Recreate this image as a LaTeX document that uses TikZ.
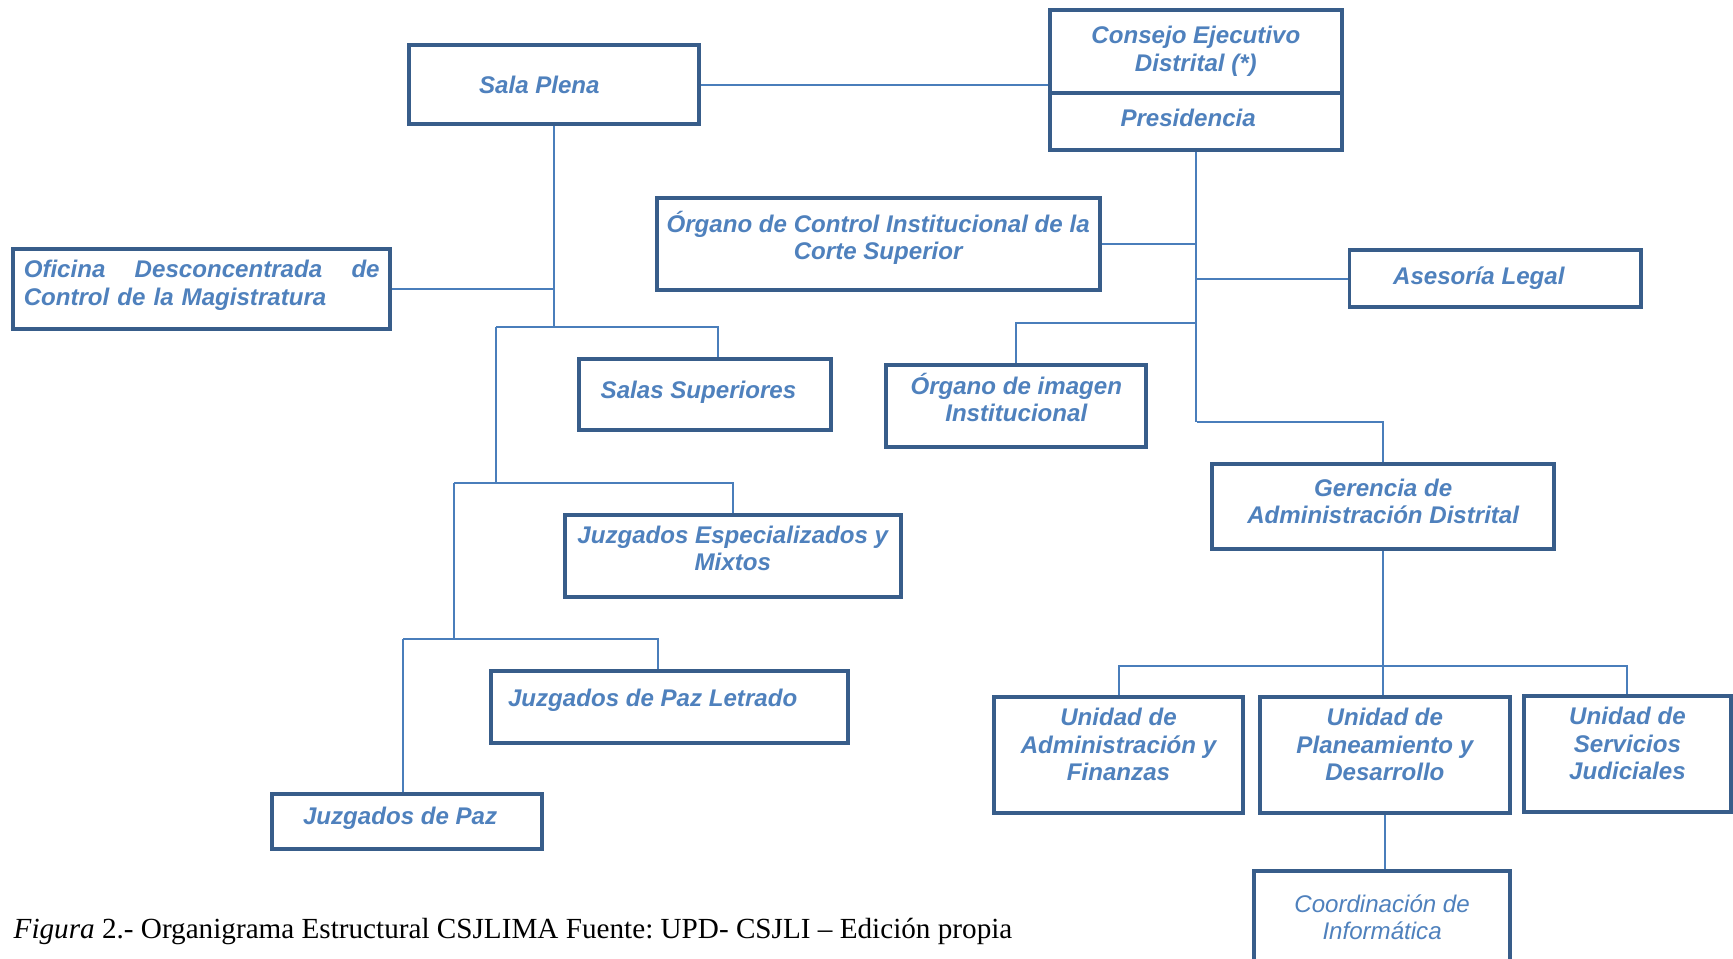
\documentclass[tikz,border=0pt]{standalone}
\usepackage{fontspec}
\setmainfont{Liberation Serif}
\setsansfont{Liberation Sans}
\usepackage{xcolor}
\usepackage{tikz}
\usetikzlibrary{positioning, calc, backgrounds}

\definecolor{boxblue}{HTML}{385D8A}
\definecolor{textblue}{HTML}{4F81BD}
\definecolor{lineblue}{HTML}{4A7EBB}

\begin{document}
\begin{tikzpicture}[x=0.5pt, y=-0.5pt,
            org_box/.style={rectangle, draw=boxblue, line width=1.8pt, fill=white, align=center,
            inner sep=2pt, text=textblue, font=\fontsize{10.9}{12.4}\selectfont\sffamily\bfseries\itshape},
            plain_box/.style={org_box, font=\fontsize{10.9}{12.4}\selectfont\sffamily\itshape},
            link/.style={draw=lineblue, line width=0.9pt},
            caption_style/.style={anchor=base west, inner sep=0pt, font=\fontsize{13.2}{15}\selectfont\frenchspacing}
        ]
            \useasboundingbox (0,0) rectangle (1568,867);

            % Top level
            \node[org_box, minimum width=131pt, minimum height=35.5pt] (sala) at (501,76.5) {Sala Plena\kern13pt};
            \node[org_box, minimum width=132pt, minimum height=37.5pt] (consejo) at (1082,46.5) {Consejo Ejecutivo\\Distrital (*)};
            \node[org_box, minimum width=132pt, minimum height=26pt, text depth=3pt] (presidencia) at (1082,110) {Presidencia\kern7pt};

            % Left branch (jurisdictional)
            \node[org_box, minimum width=170.5pt, minimum height=36.5pt, text width=161pt, align=left, text depth=18.2pt] (oficina) at (182.5,261.5)
                {Oficina\hfill Desconcentrada\hfill de\\Control de la Magistratura};
            \node[org_box, minimum width=114pt, minimum height=32pt, text depth=4.2pt] (salas) at (638,357) {Salas Superiores\kern6pt};
            \node[org_box, minimum width=152pt, minimum height=37pt, text depth=7pt] (jesp) at (663,503) {Juzgados Especializados y\\Mixtos};
            \node[org_box, minimum width=161.5pt, minimum height=32.5pt, text depth=8.2pt] (jpl) at (605.5,639.5) {Juzgados de Paz Letrado\kern15pt};
            \node[org_box, minimum width=122pt, minimum height=25pt, text depth=5.2pt] (jpaz) at (368,743) {Juzgados de Paz\kern6pt};

            % Right branch (administrative)
            \node[org_box, minimum width=200.5pt, minimum height=41.5pt, text depth=7.7pt] (ocontrol) at (794.5,220.5) {Órgano de Control Institucional de la\\Corte Superior};
            \node[org_box, minimum width=132pt, minimum height=26pt] (asesoria) at (1353,252) {Asesoría Legal\kern15pt};
            \node[org_box, minimum width=117.5pt, minimum height=37pt, text depth=7.5pt] (oimagen) at (919.5,367) {Órgano de imagen\\Institucional};
            \node[org_box, minimum width=154.5pt, minimum height=38.5pt, text depth=5pt] (gerencia) at (1251.5,458.5) {Gerencia de\\Administración Distrital};
            \node[org_box, minimum width=113pt, minimum height=52.5pt, text depth=10pt] (uadm) at (1012,683.5) {Unidad de\\Administración y\\Finanzas};
            \node[org_box, minimum width=113pt, minimum height=52.5pt, text depth=10pt] (uplan) at (1253,683.5) {Unidad de\\Planeamiento y\\Desarrollo};
            \node[org_box, minimum width=93.5pt, minimum height=52.5pt, text depth=10pt] (userv) at (1472.5,682.5) {Unidad de\\Servicios\\Judiciales};
            \node[plain_box, minimum width=115.5pt, minimum height=42pt] (coord) at (1250.5,830) {Coordinación de\\Informática};

            % Branch points
            \coordinate (r1) at (449,296);
            \coordinate (r2) at (411,437);
            \coordinate (r3) at (365,578);
            \coordinate (r4) at (1083,292);
            \coordinate (r5) at (1083,382);
            \coordinate (r6) at (1010,603);

            \begin{scope}[on background layer]
            \draw[link] (sala.east) -- (sala.east -| consejo.west);
            \draw[link] (sala.south) -- (sala.south |- r1);
            \draw[link] (oficina.east) -- (oficina.east -| sala.south);
            \draw[link] (r1) -| ([xshift=6pt]salas.north);
            \draw[link] (r1) -- (r1 |- r2);
            \draw[link] (r2) -| (jesp.north);
            \draw[link] (r2) -- (r2 |- r3);
            \draw[link] (r3) -| ([xshift=-5pt]jpl.north);
            \draw[link] (r3) -- (r3 |- jpaz.north);

            \draw[link] (presidencia.south) -- (presidencia.south |- r5);
            \draw[link] (ocontrol.east) -- (ocontrol.east -| presidencia.south);
            \draw[link] (asesoria.west) -- (asesoria.west -| presidencia.south);
            \draw[link] (r4) -| (oimagen.north);
            \draw[link] (r5) -| (gerencia.north);
            \draw[link] (gerencia.south) -- (gerencia.south |- uplan.north);
            \draw[link] (uadm.north) -- (uadm.north |- r6) -- (r6 -| userv.north) -- (userv.north);
            \draw[link] (uplan.south) -- (uplan.south |- coord.north);
            \end{scope}

            % Caption
            \node[caption_style] (caption) at (12,849)
                {\textit{Figura} 2.- Organigrama Estructural CSJLIMA Fuente: UPD- CSJLI – Edición propia};

        \end{tikzpicture}
\end{document}
